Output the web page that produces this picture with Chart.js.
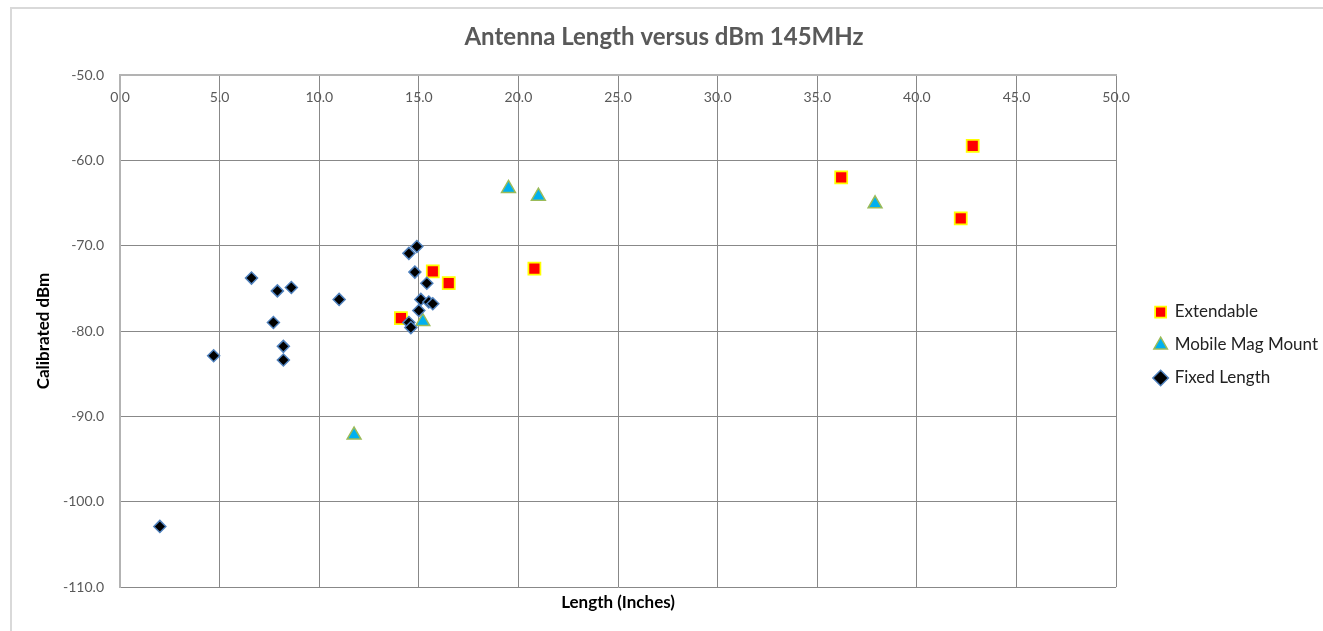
<!DOCTYPE html>
<html>
<head>
<meta charset="utf-8">
<script src="https://cdn.jsdelivr.net/npm/chart.js@4.4.0/dist/chart.umd.min.js"></script>
<style>
body { margin: 0; background: #fff; }
#wrap { position: relative; width: 1323px; height: 631px; overflow: hidden; }
#marco { position: absolute; left: 10px; top: 7px; width: 1400px; height: 700px; border-left: 2px solid #d9d9d9; border-top: 2px solid #d9d9d9; }
canvas { position: absolute; left: 0; top: 0; }
</style>
</head>
<body>
<div id="wrap"><div id="marco"></div><canvas id="myChart" width="1323" height="631"></canvas></div>
<script>
var titulo = 'Antenna Length versus dBm 145MHz';
var series = ['Extendable', 'Mobile Mag Mount', 'Fixed Length'];

// Extendable
var extLargo = [14.1, 15.7, 16.5, 20.8, 36.2, 42.8, 42.2];
var extDbm = [-78.5, -73.0, -74.4, -72.7, -62.0, -58.3, -66.8];

// Mobile Mag Mount
var magLargo = [19.5, 21.0, 37.9, 15.2, 11.75];
var magDbm = [-63.3, -64.2, -65.1, -78.9, -92.2];

// Fixed Length
var fijoLargo = [2.0, 4.7, 6.6, 7.7, 7.9, 8.2, 8.2, 8.6, 11.0, 14.5, 14.9, 14.8, 15.4, 15.1, 15.5, 15.7, 15.0, 14.5, 14.6];
var fijoDbm = [-102.9, -82.9, -73.8, -79.0, -75.3, -81.8, -83.4, -74.9, -76.3, -70.9, -70.1, -73.1, -74.4, -76.3, -76.6, -76.8, -77.6, -79.0, -79.6];

var ticksX = [0, 5, 10, 15, 20, 25, 30, 35, 40, 45, 50];
var ticksY = [-110, -100, -90, -80, -70, -60, -50];

var fuente = 'Lato, "Open Sans", sans-serif';

function puntos(xs, ys) {
    var p = [];
    for (var i = 0; i < xs.length; i++) {
        p.push({x: xs[i], y: ys[i]});
    }
    return p;
}

function ponerTicks(lista) {
    return function(scale) {
        scale.ticks = lista.map(function(v) { return {value: v}; });
    };
}

var ctx = document.getElementById('myChart').getContext('2d');
var myChart = new Chart(ctx, {
    type: 'scatter',
    data: {
        datasets: [{
            label: series[2],
            data: puntos(fijoLargo, fijoDbm),
            pointStyle: 'rectRot',
            pointRadius: 6,
            backgroundColor: '#000000',
            borderColor: '#4f81bd',
            borderWidth: 1.5,
            xAxisID: 'x',
            yAxisID: 'y'
        }, {
            label: series[1],
            data: puntos(magLargo, magDbm),
            pointStyle: 'triangle',
            pointRadius: 8,
            backgroundColor: '#00b0f0',
            borderColor: '#9bbb59',
            borderWidth: 1.5,
            xAxisID: 'x',
            yAxisID: 'y'
        }, {
            label: series[0],
            data: puntos(extLargo, extDbm),
            pointStyle: 'rect',
            pointRadius: 8.5,
            backgroundColor: '#ff0000',
            borderColor: '#ffff00',
            borderWidth: 1.75,
            xAxisID: 'x',
            yAxisID: 'y'
        }]
    },
    options: {
        responsive: false,
        animation: false,
        layout: { autoPadding: false, padding: { left: 0, top: 0, bottom: 0, right: -5 } },
        plugins: {
            title: {
                display: true,
                text: titulo,
                color: '#595959',
                font: { family: fuente, size: 24, weight: 'bold' },
                padding: { top: 22.6, bottom: 3.6 }
            },
            legend: {
                position: 'right',
                fullSize: false,
                reverse: true,
                title: { display: true, text: '', padding: { top: 16, bottom: 0 }, font: { size: 10 } },
                labels: {
                    usePointStyle: true,
                    boxWidth: 11,
                    boxHeight: 11,
                    padding: 16,
                    color: '#222222',
                    font: { family: fuente, size: 17 }
                }
            },
            tooltip: { enabled: false }
        },
        scales: {
            x: {
                type: 'linear',
                position: 'top',
                min: ticksX[0],
                max: ticksX[ticksX.length - 1],
                afterBuildTicks: ponerTicks(ticksX),
                afterFit: function(s) { s.height = 20; },
                grid: { color: '#888888', drawTicks: false },
                border: { color: '#b3b3b3', width: 2 },
                ticks: {
                    mirror: true,
                    padding: 14,
                    color: '#595959',
                    font: { family: fuente, size: 14 },
                    callback: function(v) { return Number(v).toFixed(1); }
                }
            },
            xb: {
                type: 'linear',
                position: 'bottom',
                min: ticksX[0],
                max: ticksX[ticksX.length - 1],
                afterFit: function(s) { s.height = 44; },
                grid: { display: false },
                border: { display: false },
                ticks: { display: false },
                title: {
                    display: true,
                    text: 'Length (Inches)',
                    color: '#000000',
                    font: { family: fuente, size: 17, weight: 'bold' },
                    padding: { top: 0, bottom: 17.8 }
                }
            },
            y: {
                type: 'linear',
                position: 'left',
                min: ticksY[0],
                max: ticksY[ticksY.length - 1],
                afterBuildTicks: ponerTicks(ticksY),
                afterFit: function(s) { s.width = 120; },
                grid: { color: '#888888', drawTicks: false },
                border: { color: '#b3b3b3', width: 2 },
                ticks: {
                    padding: 16,
                    color: '#595959',
                    font: { family: fuente, size: 14 },
                    callback: function(v) { return Number(v).toFixed(1); }
                },
                title: {
                    display: true,
                    text: 'Calibrated dBm',
                    color: '#000000',
                    font: { family: fuente, size: 17, weight: 'bold' },
                    padding: { top: 33.8, bottom: 0 }
                }
            },
            yr: {
                type: 'linear',
                position: 'right',
                afterFit: function(s) { s.width = 23; },
                grid: { display: false },
                border: { display: false },
                ticks: { display: false }
            }
        }
    }
});
</script>
</body>
</html>
